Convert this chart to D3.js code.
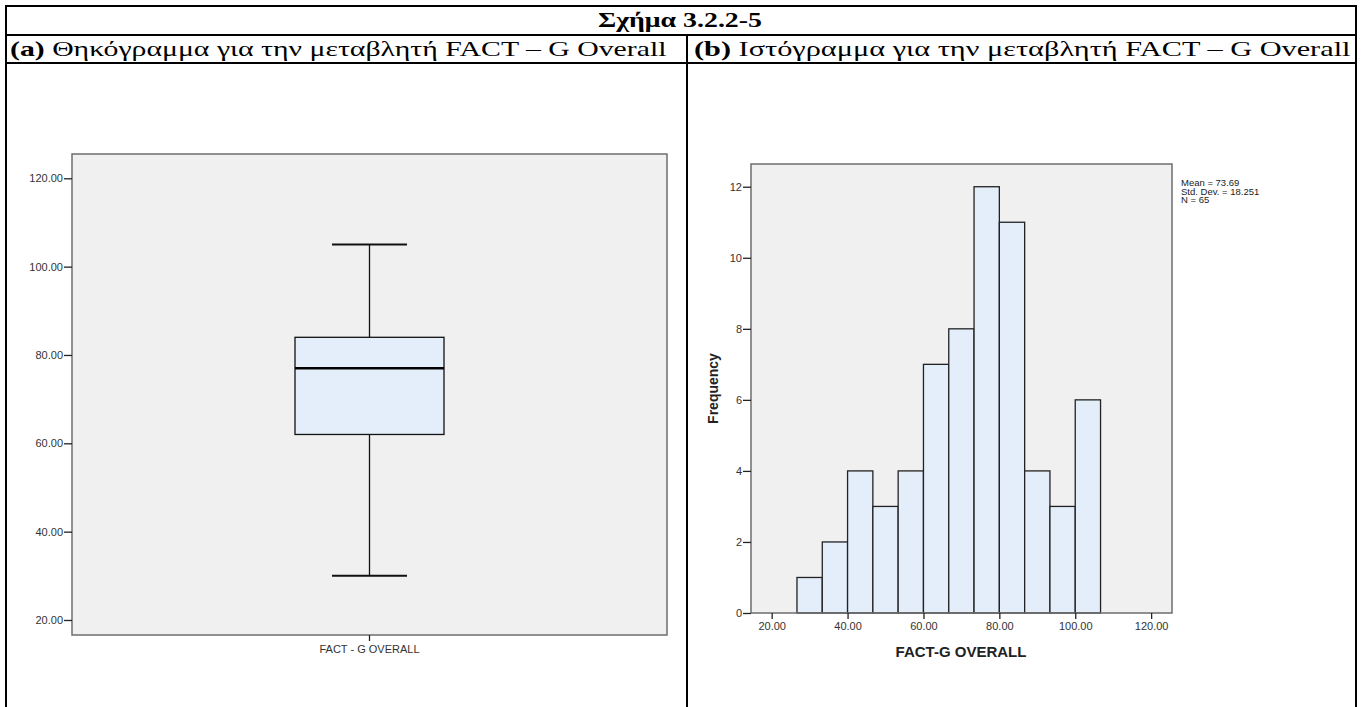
<!DOCTYPE html>
<html>
<head>
<meta charset="utf-8">
<script src="https://cdn.jsdelivr.net/npm/d3@7"></script>
<style>
  html, body { margin: 0; padding: 0; background: #fff; }
  svg { display: block; }
</style>
</head>
<body>
<svg id="fig" width="1363" height="707"></svg>
<script>
// ---- data ----
const figureTitle = "Σχήμα 3.2.2-5";
const panelTitles = [
  { tag: "(a)", text: " Θηκόγραμμα για την μεταβλητή FACT – G Overall" },
  { tag: "(b)", text: " Ιστόγραμμα για την μεταβλητή FACT – G Overall" }
];

// box plot summary (min, Q1, median, Q3, max)
const boxCategory = "FACT - G OVERALL";
const boxStats = [30, 62, 77, 84, 105];
const boxTicks = [20, 40, 60, 80, 100, 120];

// histogram bin edges and counts
const binEdges = [26.667, 33.333, 40, 46.667, 53.333, 60, 66.667, 73.333, 80, 86.667, 93.333, 100, 106.667];
const binCounts = [1, 2, 4, 3, 4, 7, 8, 12, 11, 4, 3, 6];
const histXTicks = [20, 40, 60, 80, 100, 120];
const histYTicks = [0, 2, 4, 6, 8, 10, 12];
const histXTitle = "FACT-G OVERALL";
const histYTitle = "Frequency";
const histStats = ["Mean = 73.69", "Std. Dev. = 18.251", "N = 65"];

// ---- styling ----
const plotBg = "#f0f0f0";
const frameColor = "#6e6e6e";
const barFill = "#e3eefa";
const axisText = "#333";
const sans = "'Liberation Sans', Arial, sans-serif";
const serif = "'Liberation Serif', 'Times New Roman', serif";

const svg = d3.select("#fig");

// place a text element at (x, y) and scale it horizontally to span `width`
function fitText(sel, x, y, width) {
  const w = sel.node().getComputedTextLength();
  sel.attr("x", 0).attr("y", 0)
    .attr("transform", `translate(${x},${y}) scale(${width / w},1)`);
}

// ---- document table frame ----
const table = svg.append("g").attr("fill", "none").attr("stroke", "#000").attr("stroke-width", 2);
table.append("line").attr("x1", 5).attr("x2", 1357).attr("y1", 6).attr("y2", 6);
table.append("line").attr("x1", 5).attr("x2", 1357).attr("y1", 35).attr("y2", 35);
table.append("line").attr("x1", 5).attr("x2", 1357).attr("y1", 63).attr("y2", 63);
table.append("line").attr("x1", 6).attr("x2", 6).attr("y1", 5).attr("y2", 707);
table.append("line").attr("x1", 1356).attr("x2", 1356).attr("y1", 5).attr("y2", 707);
table.append("line").attr("x1", 687).attr("x2", 687).attr("y1", 35).attr("y2", 707);

const head = svg.append("text")
  .attr("font-family", serif).attr("font-size", 22).attr("font-weight", "bold")
  .text(figureTitle);
fitText(head, 598, 27, 164);

const titleX = [10, 694];
panelTitles.forEach((p, i) => {
  const t = svg.append("text")
    .attr("font-family", serif).attr("font-size", 22);
  t.append("tspan").attr("font-weight", "bold").text(p.tag);
  t.append("tspan").text(p.text);
  fitText(t, titleX[i], 56, 657);
});

// ---- (a) box plot ----
{
  const L = 72, R = 667, T = 154, B = 635;
  const y = d3.scaleLinear().domain([16.6, 125.5]).range([B, T]);
  const x = d3.scaleBand().domain([boxCategory]).range([L, R]);
  const g = svg.append("g");

  g.append("rect").attr("x", L).attr("y", T).attr("width", R - L).attr("height", B - T)
    .attr("fill", plotBg);

  const cx = x(boxCategory) + x.bandwidth() / 2;
  const bw = 149, cap = 75;
  const [mn, q1, md, q3, mx] = boxStats;

  const lines = g.append("g").attr("stroke", "#111").attr("stroke-width", 1.3);
  lines.append("line").attr("x1", cx).attr("x2", cx).attr("y1", y(mx)).attr("y2", y(q3));
  lines.append("line").attr("x1", cx).attr("x2", cx).attr("y1", y(q1)).attr("y2", y(mn));
  lines.append("line").attr("x1", cx - cap / 2).attr("x2", cx + cap / 2).attr("y1", y(mx)).attr("y2", y(mx)).attr("stroke-width", 2);
  lines.append("line").attr("x1", cx - cap / 2).attr("x2", cx + cap / 2).attr("y1", y(mn)).attr("y2", y(mn)).attr("stroke-width", 2);
  g.append("rect")
    .attr("x", cx - bw / 2).attr("y", y(q3)).attr("width", bw).attr("height", y(q1) - y(q3))
    .attr("fill", barFill).attr("stroke", "#111").attr("stroke-width", 1.3);
  g.append("line").attr("x1", cx - bw / 2).attr("x2", cx + bw / 2).attr("y1", y(md)).attr("y2", y(md))
    .attr("stroke", "#000").attr("stroke-width", 2.5);

  g.append("rect").attr("x", L).attr("y", T).attr("width", R - L).attr("height", B - T)
    .attr("fill", "none").attr("stroke", frameColor).attr("stroke-width", 1.5);

  const yAxis = g.append("g").attr("transform", `translate(${L},0)`)
    .call(d3.axisLeft(y).tickValues(boxTicks).tickFormat(d3.format(".2f")).tickSize(8).tickPadding(1));
  yAxis.select(".domain").remove();
  yAxis.selectAll("line").attr("stroke", "#222").attr("stroke-width", 1.3);
  yAxis.selectAll("text").attr("font-family", sans).attr("font-size", 11).attr("fill", axisText);

  const xAxis = g.append("g").attr("transform", `translate(0,${B})`)
    .call(d3.axisBottom(x).tickSize(6).tickPadding(4));
  xAxis.select(".domain").remove();
  xAxis.selectAll("line").attr("stroke", "#222").attr("stroke-width", 1.3);
  xAxis.selectAll("text").attr("font-family", sans).attr("font-size", 11).attr("fill", axisText);
}

// ---- (b) histogram ----
{
  const L = 751, R = 1172, T = 164, B = 613;
  const x = d3.scaleLinear().domain([14.55, 125.5]).range([L, R]);
  const y = d3.scaleLinear().domain([0, 12.64]).range([B, T]);
  const g = svg.append("g");

  g.append("rect").attr("x", L).attr("y", T).attr("width", R - L).attr("height", B - T)
    .attr("fill", plotBg);

  const bins = binCounts.map((c, i) => ({ x0: binEdges[i], x1: binEdges[i + 1], n: c }));
  g.append("g").selectAll("rect").data(bins).join("rect")
    .attr("x", d => x(d.x0)).attr("width", d => x(d.x1) - x(d.x0))
    .attr("y", d => y(d.n)).attr("height", d => y(0) - y(d.n))
    .attr("fill", barFill).attr("stroke", "#222").attr("stroke-width", 1.3);

  g.append("rect").attr("x", L).attr("y", T).attr("width", R - L).attr("height", B - T)
    .attr("fill", "none").attr("stroke", frameColor).attr("stroke-width", 1.5);

  const yAxis = g.append("g").attr("transform", `translate(${L},0)`)
    .call(d3.axisLeft(y).tickValues(histYTicks).tickFormat(d3.format("d")).tickSize(8).tickPadding(1));
  yAxis.select(".domain").remove();
  yAxis.selectAll("line").attr("stroke", "#222").attr("stroke-width", 1.3);
  yAxis.selectAll("text").attr("font-family", sans).attr("font-size", 11).attr("fill", axisText);

  const xAxis = g.append("g").attr("transform", `translate(0,${B})`)
    .call(d3.axisBottom(x).tickValues(histXTicks).tickFormat(d3.format(".2f")).tickSize(6).tickPadding(3));
  xAxis.select(".domain").remove();
  xAxis.selectAll("line").attr("stroke", "#222").attr("stroke-width", 1.3);
  xAxis.selectAll("text").attr("font-family", sans).attr("font-size", 11).attr("fill", axisText);

  g.append("text")
    .attr("x", 961).attr("y", 657)
    .attr("text-anchor", "middle")
    .attr("font-family", sans).attr("font-size", 15).attr("font-weight", "bold").attr("fill", "#222")
    .text(histXTitle);

  g.append("text")
    .attr("transform", `translate(718,${(T + B) / 2}) rotate(-90)`)
    .attr("text-anchor", "middle")
    .attr("font-family", sans).attr("font-size", 14).attr("font-weight", "bold").attr("fill", "#222")
    .text(histYTitle);

  g.append("g").selectAll("text").data(histStats).join("text")
    .attr("x", 1181).attr("y", (d, i) => 186 + i * 8.5)
    .attr("font-family", sans).attr("font-size", 9.5).attr("fill", "#222")
    .text(d => d);
}
</script>
</body>
</html>
